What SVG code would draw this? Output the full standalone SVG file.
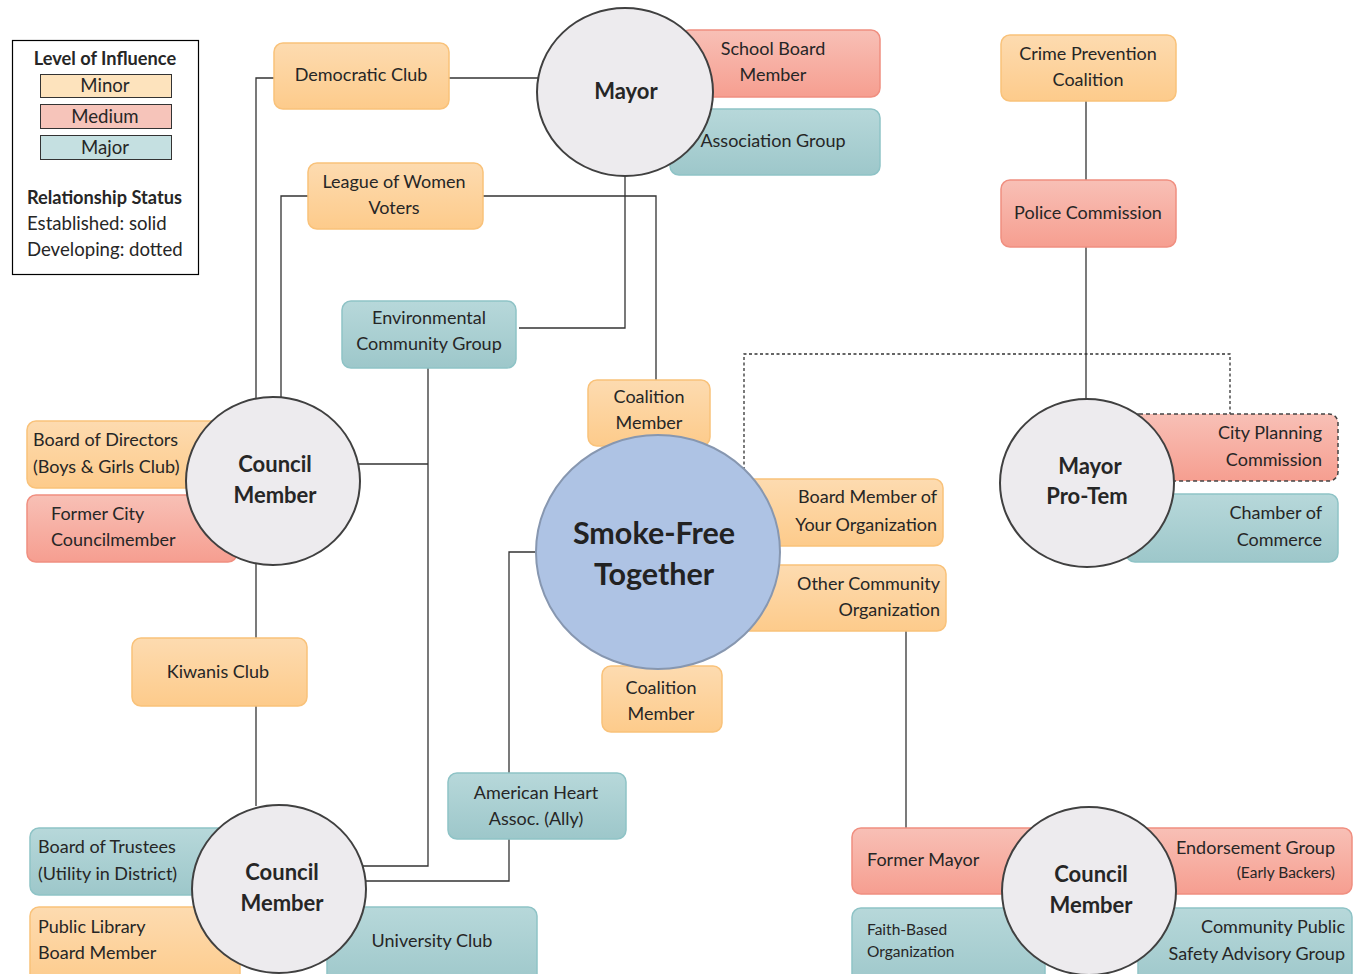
<svg xmlns="http://www.w3.org/2000/svg" width="1358" height="974" viewBox="0 0 1358 974">
<defs>
<linearGradient id="gO" x1="0" y1="0" x2="0" y2="1"><stop offset="0" stop-color="#fddbb0"/><stop offset="1" stop-color="#fdcb8b"/></linearGradient>
<linearGradient id="gR" x1="0" y1="0" x2="0" y2="1"><stop offset="0" stop-color="#f8c0b6"/><stop offset="1" stop-color="#f69e90"/></linearGradient>
<linearGradient id="gT" x1="0" y1="0" x2="0" y2="1"><stop offset="0" stop-color="#b7d8da"/><stop offset="1" stop-color="#9dc7ca"/></linearGradient>
<style>
text{font-family:Lato,"Open Sans","Liberation Sans",sans-serif;font-size:18px;fill:#262626}
.c{text-anchor:middle}.r{text-anchor:end}
.b{font-weight:bold;font-size:22px}
.big{font-weight:bold;font-size:30.5px;fill:#222}
.s{font-size:15.5px}
.lg{font-size:18.6px}
.lgb{font-weight:bold;font-size:18.2px}
.o{fill:url(#gO);stroke:#f9c27a;stroke-width:1.5}
.m{fill:url(#gR);stroke:#f08f80;stroke-width:1.5}
.t{fill:url(#gT);stroke:#8ec3c6;stroke-width:1.5}
.circ{fill:#edebee;stroke:#404040;stroke-width:2}
.ln{fill:none;stroke:#333;stroke-width:1.3}
</style>
</defs>
<rect width="1358" height="974" fill="#fff"/>

<g id="legend">
<rect x="12.5" y="40.5" width="186" height="234" fill="#fff" stroke="#000" stroke-width="1.2"/>
<text class="c lgb" x="105" y="65">Level of Influence</text>
<rect x="40.5" y="74.5" width="131" height="23" fill="#fde3bd" stroke="#333"/>
<text class="c lg" x="105" y="92">Minor</text>
<rect x="40.5" y="104.5" width="131" height="24" fill="#f6c4ba" stroke="#333"/>
<text class="c lg" x="105" y="123">Medium</text>
<rect x="40.5" y="135.5" width="131" height="24" fill="#c5e0e1" stroke="#333"/>
<text class="c lg" x="105" y="154">Major</text>
<text class="lgb" x="27" y="204">Relationship Status</text>
<text class="lg" x="27" y="230">Established: solid</text>
<text class="lg" x="27" y="256">Developing: dotted</text>
</g>

<g id="connectors">
<path class="ln" d="M449,78 H538"/>
<path class="ln" d="M274,78 H256 V400"/>
<path class="ln" d="M308,196 H281 V399"/>
<path class="ln" d="M483,196 H656 V380"/>
<path class="ln" d="M625,176 V328 H519"/>
<path class="ln" d="M359,464 H428"/>
<path class="ln" d="M428,368 V866 H363"/>
<path class="ln" d="M256,564 V638"/>
<path class="ln" d="M256,706 V806"/>
<path class="ln" d="M537,552 H509 V773"/>
<path class="ln" d="M509,839 V881 H365"/>
<path class="ln" d="M1086,101 V180"/>
<path class="ln" d="M1086,247 V399"/>
<path class="ln" d="M906,631 V828"/>
<path class="ln" style="stroke-dasharray:3 2.5" d="M744,470 V354 H1230 V414"/>
</g>

<g id="democratic-club"><rect class="o" x="274" y="43" width="175" height="66" rx="9"/><text class="c" x="361" y="81">Democratic Club</text></g>
<g id="school-board"><rect class="m" x="680" y="30" width="200" height="67" rx="9"/><text class="c" x="773" y="55">School Board</text><text class="c" x="773" y="81">Member</text></g>
<g id="association-group"><rect class="t" x="670" y="109" width="210" height="66" rx="9"/><text class="c" x="773" y="147">Association Group</text></g>
<g id="crime-prevention"><rect class="o" x="1001" y="35" width="175" height="66" rx="9"/><text class="c" x="1088" y="60">Crime Prevention</text><text class="c" x="1088" y="86">Coalition</text></g>
<g id="police-commission"><rect class="m" x="1001" y="180" width="175" height="67" rx="9"/><text class="c" x="1088" y="219">Police Commission</text></g>
<g id="league"><rect class="o" x="308" y="163" width="175" height="66" rx="9"/><text class="c" x="394" y="188">League of Women</text><text class="c" x="394" y="214">Voters</text></g>
<g id="environmental"><rect class="t" x="342" y="301" width="174" height="67" rx="9"/><text class="c" x="429" y="324">Environmental</text><text class="c" x="429" y="350">Community Group</text></g>
<g id="coalition-top"><rect class="o" x="588" y="380" width="122" height="66" rx="9"/><text class="c" x="649" y="403">Coalition</text><text class="c" x="649" y="429">Member</text></g>
<g id="board-directors"><rect class="o" x="27" y="421" width="203" height="67" rx="9"/><text x="33" y="446">Board of Directors</text><text x="33" y="473">(Boys &amp; Girls Club)</text></g>
<g id="former-city"><rect class="m" x="27" y="495" width="210" height="67" rx="9"/><text x="51" y="520">Former City</text><text x="51" y="546">Councilmember</text></g>
<g id="board-member-org"><rect class="o" x="745" y="479" width="198" height="67" rx="9"/><text class="r" x="937" y="503">Board Member of</text><text class="r" x="937" y="531">Your Organization</text></g>
<g id="other-community"><rect class="o" x="740" y="565" width="206" height="66" rx="9"/><text class="r" x="940" y="590">Other Community</text><text class="r" x="940" y="616">Organization</text></g>
<g id="coalition-bottom"><rect class="o" x="602" y="666" width="120" height="66" rx="9"/><text class="c" x="661" y="694">Coalition</text><text class="c" x="661" y="720">Member</text></g>
<g id="kiwanis"><rect class="o" x="132" y="638" width="175" height="68" rx="9"/><text class="c" x="218" y="678">Kiwanis Club</text></g>
<g id="american-heart"><rect class="t" x="448" y="773" width="178" height="66" rx="9"/><text class="c" x="536" y="799">American Heart</text><text class="c" x="536" y="825">Assoc.  (Ally)</text></g>
<g id="board-trustees"><rect class="t" x="30" y="828" width="200" height="67" rx="9"/><text x="38" y="853">Board of Trustees</text><text x="38" y="880">(Utility in District)</text></g>
<g id="public-library"><rect class="o" x="30" y="907" width="210" height="80" rx="9"/><text x="38" y="933">Public Library</text><text x="38" y="959">Board Member</text></g>
<g id="university-club"><rect class="t" x="327" y="907" width="210" height="80" rx="9"/><text class="c" x="432" y="947">University Club</text></g>
<g id="city-planning"><rect class="m" x="1130" y="414" width="208" height="67" rx="9" style="stroke:#444;stroke-dasharray:4 3"/><text class="r" x="1322" y="439">City Planning</text><text class="r" x="1322" y="466">Commission</text></g>
<g id="chamber"><rect class="t" x="1126" y="494" width="212" height="68" rx="9"/><text class="r" x="1322" y="519">Chamber of</text><text class="r" x="1322" y="546">Commerce</text></g>
<g id="former-mayor"><rect class="m" x="852" y="828" width="198" height="66" rx="9"/><text x="867" y="866">Former Mayor</text></g>
<g id="endorsement"><rect class="m" x="1135" y="828" width="217" height="66" rx="9"/><text class="r" x="1335" y="854">Endorsement Group</text><text class="r s" x="1335" y="878">(Early Backers)</text></g>
<g id="faith-based"><rect class="t" x="852" y="908" width="193" height="80" rx="9"/><text class="s" x="867" y="935">Faith-Based</text><text class="s" x="867" y="957">Organization</text></g>
<g id="community-public"><rect class="t" x="1138" y="908" width="214" height="80" rx="9"/><text class="r" x="1345" y="933">Community Public</text><text class="r" x="1345" y="960">Safety Advisory Group</text></g>

<g id="mayor"><ellipse class="circ" cx="625" cy="92" rx="88" ry="84"/><text class="c b" x="626" y="99">Mayor</text></g>
<g id="council-member-1"><ellipse class="circ" cx="273" cy="481" rx="87" ry="84"/><text class="c b" x="275" y="472">Council</text><text class="c b" x="275" y="503">Member</text></g>
<g id="smoke-free"><ellipse cx="658" cy="552" rx="122" ry="117" fill="#aec3e4" stroke="#8797b0" stroke-width="2"/><text class="c big" x="654" y="544">Smoke-Free</text><text class="c big" x="654" y="585">Together</text></g>
<g id="council-member-2"><ellipse class="circ" cx="279" cy="889" rx="87" ry="84"/><text class="c b" x="282" y="880">Council</text><text class="c b" x="282" y="911">Member</text></g>
<g id="mayor-pro-tem"><ellipse class="circ" cx="1087" cy="483" rx="87" ry="84"/><text class="c b" x="1090" y="474">Mayor</text><text class="c b" x="1087" y="504">Pro-Tem</text></g>
<g id="council-member-3"><ellipse class="circ" cx="1089" cy="891" rx="87" ry="84"/><text class="c b" x="1091" y="882">Council</text><text class="c b" x="1091" y="913">Member</text></g>
</svg>
